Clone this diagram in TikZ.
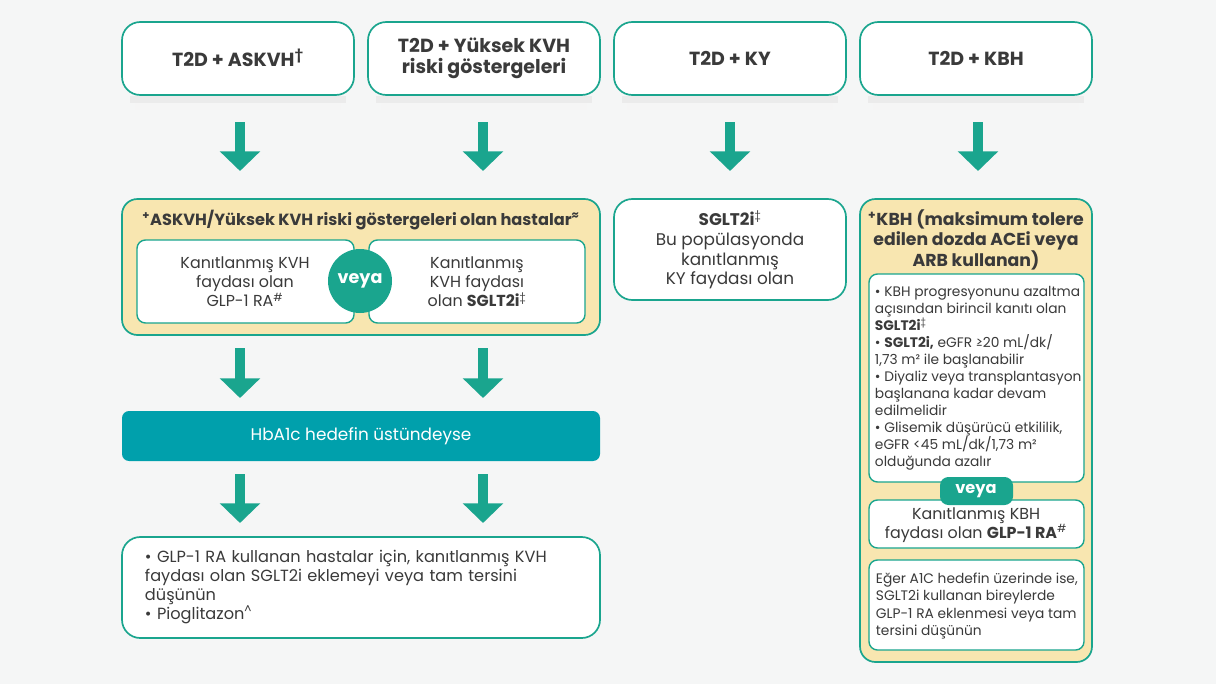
\documentclass[tikz,border=0pt]{standalone}
\usepackage{fontspec}
\setmainfont{Poppins}
\usetikzlibrary{arrows.meta}
\definecolor{tealc}{HTML}{1AA58E}
\definecolor{barc}{HTML}{00A0AC}
\definecolor{yel}{HTML}{F8E6B0}
\definecolor{bg}{HTML}{F5F6F6}
\definecolor{txt}{HTML}{3A3A3A}
\begin{document}
\lefthyphenmin=64 \hyphenpenalty=10000
\begin{tikzpicture}[x=0.025cm,y=-0.025cm,
 box/.style={draw=tealc,line width=1.2pt,fill=white,rounded corners=13pt},
 ybox/.style={draw=tealc,line width=1.2pt,fill=yel,rounded corners=11pt},
 ibox/.style={draw=tealc,line width=1pt,fill=white,rounded corners=6pt},
 arr/.style={-{Triangle[width=28pt,length=14pt]},line width=7pt,draw=tealc},
 ttl/.style={font=\fontsize{13.5}{15}\selectfont\bfseries,text=txt,align=center},
 bt/.style={font=\fontsize{11.3}{13.5}\selectfont,text=txt,align=center},
 st/.style={font=\fontsize{9.8}{12.1}\selectfont,text=txt,align=left}]
\fill[bg] (0,0) rectangle (1216,684);
\useasboundingbox (0,0) rectangle (1216,684);
% shadows
\foreach \x in {238,484,730,976}{
 \fill[black!8] (\x-108,96) rectangle (\x+108,103);
 \fill[black!4] (\x-103,103) rectangle (\x+103,110);}
% top boxes
\draw[box] (122,22) rectangle (354,95); \node[ttl] (t1) at (238,58) {T2D + ASKVH\textsuperscript{†}};
\draw[box] (368,22) rectangle (600,95); \node[ttl] (t2) at (484,58) {T2D + Yüksek KVH\\riski göstergeleri};
\draw[box] (614,22) rectangle (846,95); \node[ttl] (t3) at (730,58) {T2D + KY};
\draw[box] (860,22) rectangle (1092,95); \node[ttl] (t4) at (976,58) {T2D + KBH};
% arrows
\foreach \x in {240,483,730,978}{\draw[arr] (\x,122) -- (\x,171);}
% yellow left
\draw[ybox] (122,199) rectangle (600,335);
\node[font=\fontsize{11.5}{13}\selectfont\bfseries,text=txt] (yt) at (361,220) {\textsuperscript{+}ASKVH/Yüksek KVH riski göstergeleri olan hastalar\textsuperscript{≈}};
\draw[ibox] (137,240) rectangle (354,323); \node[bt] (g1) at (245,282) {Kanıtlanmış KVH\\faydası olan\\GLP-1 RA\textsuperscript{\#}};
\draw[ibox] (369,240) rectangle (585,323); \node[bt] (g2) at (477,282) {Kanıtlanmış\\KVH faydası\\olan \textbf{SGLT2i}\textsuperscript{‡}};
\fill[tealc] (360,281) circle (32);
\node[font=\fontsize{12.5}{14}\selectfont\bfseries,text=white] (v1) at (360,281) {veya};
% SGLT2i box
\draw[box] (614,199) rectangle (846,300);
\node[bt,font=\fontsize{12}{14}\selectfont] (s) at (730,250) {\textbf{SGLT2i}\textsuperscript{‡}\\Bu popülasyonda\\kanıtlanmış\\KY faydası olan};
% arrows 2
\foreach \x in {240,483}{\draw[arr] (\x,348) -- (\x,398); \draw[arr] (\x,474) -- (\x,523);}
\fill[barc,rounded corners=5pt] (122,411) rectangle (600,461);
\node[font=\fontsize{12}{14}\selectfont,text=white] (hb) at (361,436) {HbA1c hedefin üstündeyse};
\draw[box] (122,537) rectangle (600,638);
\node[st,font=\fontsize{11.5}{13.6}\selectfont,anchor=north west,text width=10.8cm] (bb) at (140,545) {• GLP-1 RA kullanan hastalar için, kanıtlanmış KVH faydası olan SGLT2i eklemeyi veya tam tersini düşünün\\• Pioglitazon\textsuperscript{\textasciicircum}};
% KBH column
\draw[ybox] (860,199) rectangle (1092,662);
\node[font=\fontsize{12.3}{14.2}\selectfont\bfseries,text=txt,align=center] (kt) at (976,240) {\textsuperscript{+}KBH (maksimum tolere\\edilen dozda ACEi veya\\ARB kullanan)};
\draw[ibox] (869,274) rectangle (1084,482);
\node[st,anchor=north west] (kl) at (870,281) {• KBH progresyonunu azaltma\\açısından birincil kanıtı olan\\\textbf{SGLT2i}\textsuperscript{‡}\\• \textbf{SGLT2i,} eGFR ≥20 mL/dk/\\1,73 m² ile başlanabilir\\• Diyaliz veya transplantasyon\\başlanana kadar devam\\edilmelidir\\• Glisemik düşürücü etkililik,\\eGFR <45 mL/dk/1,73 m²\\olduğunda azalır};
\draw[ibox] (869,500) rectangle (1084,548);
\node[bt] (kg) at (976,525) {Kanıtlanmış KBH\\faydası olan \textbf{GLP-1 RA}\textsuperscript{\#}};
\fill[tealc,rounded corners=6pt] (940,477) rectangle (1013,505);
\node[font=\fontsize{11.5}{13}\selectfont\bfseries,text=white] (v2) at (976,491) {veya};
\draw[ibox] (869,560) rectangle (1084,650);
\node[st,font=\fontsize{9.8}{12.4}\selectfont,anchor=north west] (ka) at (871,568) {Eğer A1C hedefin üzerinde ise,\\SGLT2i kullanan bireylerde\\GLP-1 RA eklenmesi veya tam\\tersini düşünün};
\end{tikzpicture}
\end{document}
